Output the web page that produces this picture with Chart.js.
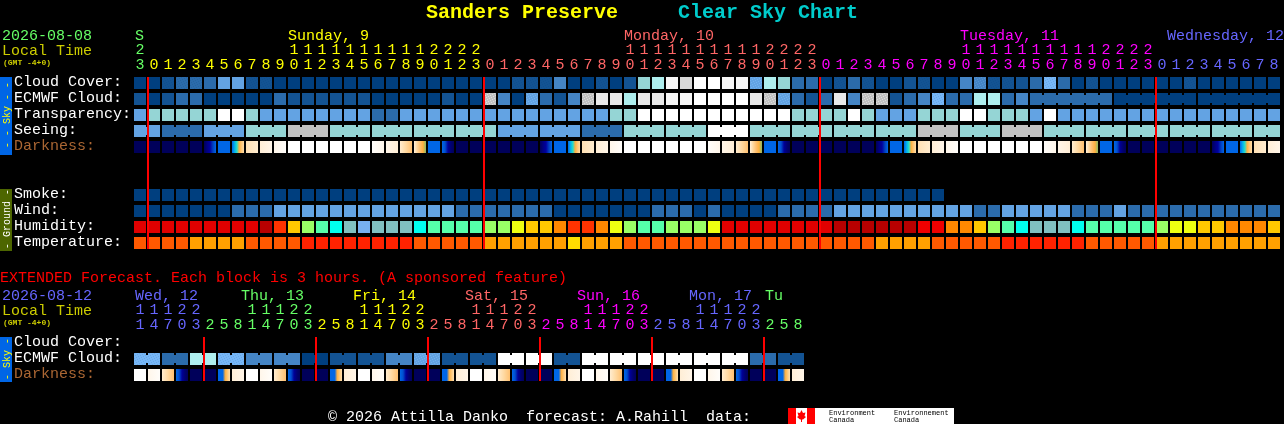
<!DOCTYPE html>
<html>
<head>
<meta charset="utf-8">
<style>
html,body{margin:0;padding:0;background:#000;width:1284px;height:424px;overflow:hidden}
canvas{position:absolute;left:0;top:0}
</style>
<script src="https://cdn.jsdelivr.net/npm/chart.js@4"></script>
</head>
<body>
<canvas id="main" width="1284" height="424"></canvas>
<canvas id="ext" width="1284" height="424"></canvas>
<script>
/* ---------- data ---------- */
const hours = [23,0,1,2,3,4,5,6,7,8,9,10,11,12,13,14,15,16,17,18,19,20,21,22,23,
  0,1,2,3,4,5,6,7,8,9,10,11,12,13,14,15,16,17,18,19,20,21,22,23,
  0,1,2,3,4,5,6,7,8,9,10,11,12,13,14,15,16,17,18,19,20,21,22,23,
  0,1,2,3,4,5,6,7,8];
const rowLabels = ['Cloud Cover:','ECMWF Cloud:','Transparency:','Seeing:','Darkness:','','','Smoke:','Wind:','Humidity:','Temperature:'];
const cloudCover = [0,0,21,22,22,2,4,4,21,21, 0,0,0,0,0,0,0,0,0,0, 0,0,0,0,0,0,0,21,21,21,
  3,0,0,21,0,1,6,7,11,9, 12,12,11,11,24,7,6,2,2,0, 21,2,21,0,0,1,21,0,0,3,
  23,21,21,1,2,25,2,0,21,0, 0,0,0,0,0,21,0,0,0,0, 0,0];
const ecmwf = [1,0,1,2,2,0,0,0,0,0, 2,1,1,1,1,1,1,0,0,0, 0,0,1,0,0,28,3,0,24,2,
  1,3,28,10,10,7,10,10,11,11, 12,12,12,12,10,28,24,2,1,2, 10,3,28,28,1,2,3,25,2,2,
  7,7,2,3,2,2,2,2,2,2, 0,0,0,0,0,0,0,0,0,0, 0,0];
const ecmwfStarts = [0,1,2,3,4,5,6,7,8,9,10,11,12,13,14,15,16,17,18,19,20,21,22,23,24,25,26,27,28,29,30,31,32,33,34,35,36,37,38,39,40,41,42,43,44,45,46,47,48,49,50,51,52,53,54,55,56,57,58,59,60,61,62,63,64,70,76];
const transparency = [4,6,6,6,6,6,12,12,6,4, 4,4,4,4,4,4,4,2,2,4, 4,4,4,4,4,4,4,4,4,4,
  4,4,4,4,6,6,12,12,12,12, 12,12,12,12,12,12,12,6,6,6, 6,12,6,4,4,4,6,6,6,12,
  12,6,6,6,4,12,4,4,4,4, 4,4,4,4,4,4,4,4,4,4, 4,4];
const seeing = [4,4,2,2,2,4,4,4,6,6, 6,8,8,8,6,6,6,6,6,6, 6,6,6,6,6,6,4,4,4,4,
  4,4,2,2,2,6,6,6,6,6, 6,12,12,12,6,6,6,6,6,6, 6,6,6,6,6,6,8,8,8,6,
  6,6,8,8,8,6,6,6,6,6, 6,6,6,6,6,6,6,6,6,6, 6,6];
const seeingStarts = [0,2,5,8,11,14,17,20,23,26,29,32,35,38,41,44,47,50,53,56,59,62,65,68,71,74,77,80];
const darkness = ['n','n','n','n','n','a','b','c','d','e','f','w','w','w','w','w','w','F','E','D','C','b','A',
  'n','n','n','n','n','n','a','b','c','d','e','f','w','w','w','w','w','w','F','E','D','C','b','A',
  'n','n','n','n','n','n','a','b','c','d','e','f','w','w','w','w','w','w','F','E','D','C','b','A',
  'n','n','n','n','n','n','a','b','c','d','e'];
const smoke = [0,0,0,0,0,0,0,0,0,0, 0,0,0,0,0,0,0,0,0,0, 0,0,0,0,0,0,0,0,0,0,
  0,0,0,0,0,0,0,0,0,0, 0,0,0,0,0,0,0,0,0,0, 0,0,0,0,0,0,0,0];
const wind = [0,0,0,0,0,0,0,2,2,2, 4,4,4,4,4,4,4,4,4,4, 4,4,4,2,2,2,2,2,2,2,
  0,0,0,0,0,0,0,2,2,2, 0,2,0,0,0,0,2,2,2,2, 4,4,4,4,4,4,4,4,4,4,
  2,2,4,4,4,4,4,2,2,2, 4,2,2,2,2,2,2,2,2,2, 2,2];
const humidity = ['R','R','R','R','R','R','R','R','R','D','S','A','L','G','C','T','B','T','T','T','C',
  'G','G','G','G','L','L','Y','A','A','O','S','S','O','Y','L','G','G','L','L','L','Y',
  'R','R','R','R','R','R','R','R','D','D','D','D','D','D','H','H','O','O','A','L','G','C','T','T','T',
  'C','G','G','G','G','G','L','Y','Y','A','A','O','O','O','A'];
const temperature = ['F','F','F','F','A','A','A','A','F','F','F','F','X','X','X','X','X','X','X','X','F',
  'F','F','F','F','A','A','A','A','A','A','Y','A','A','A','F','F','F','F','F','F','F','F','F','F','F','F','F','F','F','F','F',
  'F','A','A','A','A','F','F','F','F','F','X','X','X','X','X','X','F','F','F','F','F',
  'A','A','A','A','A','A','A','A','A'];
const midnights = [1,25,49,73];

const extHours = [11,14,17,20,23,2,5,8, 11,14,17,20,23,2,5,8, 11,14,17,20,23,2,5,8,
  11,14,17,20,23,2,5,8, 11,14,17,20,23,2,5,8, 11,14,17,20,23,2,5,8];
const extRowLabels = ['Cloud Cover:','ECMWF Cloud:','Darkness:'];
const extEcmwf = [25,25,2,2,7,7,25,25,3,3,3,3,0,0,1,1,1,1,3,3,24,24,1,1,
  1,1,12,12,12,12,1,1,12,12,12,12,12,12,12,12,12,12,12,12,2,2,1,1];
const extStarts = [0,2,4,6,8,10,12,14,16,18,20,22,24,26,28,30,32,34,36,38,40,42,44,46];
const extDarkness = ['w','f','D','A','n','n','g','e','w','f','D','A','n','n','g','e',
  'w','f','D','A','n','n','g','e','w','f','D','A','n','n','g','e',
  'w','f','D','A','n','n','g','e','w','f','D','A','n','n','g','e'];
const extMidnights = [5,13,21,29,37,45];

const dayRuns = [[1,'#66ff66'],[25,'#ffff00'],[49,'#ff6666'],[73,'#ff00ff'],[82,'#6666ff']];
const extDayRuns = [[5,'#6666ff'],[13,'#66ff66'],[21,'#ffff00'],[29,'#ff6666'],[37,'#ff00ff'],[45,'#6666ff'],[48,'#66ff66']];

/* ---------- styles ---------- */
const MONO = '"Liberation Mono", "DejaVu Sans Mono", monospace';
const cloudColors = {0:'#003f7f',1:'#135393',2:'#2b6bab',3:'#4585c5',4:'#63a3e3',5:'#77b7f7',6:'#95d5d5',7:'#aeeeee',
  8:'#c2c2c2',9:'#d8d8d8',10:'#e9e9e9',11:'#f6f6f6',12:'#ffffff'};
const speckled = {21:['#135393','#0f4f8f'],22:['#2b6bab','#25659f'],23:['#4585c5','#5393d3'],24:['#63a3e3','#72b2ee'],
  25:['#77b7f7','#68a8e8'],28:['#c2c2c2','#dcdcdc']};
const humidityColors = {R:'#e00000',D:'#b80000',H:'#f00000',S:'#ff3300',O:'#ff8800',A:'#ffc800',Y:'#eeff11',L:'#99ff66',
  G:'#55ffaa',C:'#00ffee',T:'#80c0c0',B:'#77b0f0'};
const tempColors = {F:'#ff5900',A:'#ffa000',Y:'#ffdd00',X:'#ff2200'};
const darkStops = {
  n:['#00005a','#00005a'],
  a:['#00005a','#000080','#0000a0','#0040c0','#0066e6'],
  b:['#0066e6','#0066e6'],
  A:['#0066e6','#0050d0','#000098','#000070','#00005a'],
  c:['#0066e6','#00aaee','#22ddcc','#ffb040','#ffc878','#ffdca8'],
  C:['#fff0da','#ffd8a0','#ffc070','#ffb040','#88bb66'],
  g:['#0066e6','#0066e6','#0066e6','#ffb040','#ffc878','#ffe0b0'],
  d:['#ffe0b4','#ffeccf'],
  e:['#ffeed6','#fff5e8'],
  f:['#fff6ea','#fffdfa'],
  w:['#ffffff','#ffffff'],
  F:['#fffdfa','#fff6ea'],
  E:['#fff5e8','#ffeed6'],
  D:['#ffeccf','#ffd8a0','#ffc070']
};
const CELL_PAD = 2/16, BRIDGE_PAD = 4/16;

function specklePattern(ctx, base, dot){
  const c = document.createElement('canvas'); c.width = 5; c.height = 5;
  const t = c.getContext('2d');
  t.fillStyle = base; t.fillRect(0,0,5,5);
  t.fillStyle = dot;
  [[0,0],[3,1],[1,2],[4,3],[2,4]].forEach(p => t.fillRect(p[0],p[1],1,1));
  return ctx.createPattern(c,'repeat');
}
function cloudFills(ctx, levels){
  const cache = {};
  return levels.map(l => {
    if (cloudColors[l]) return cloudColors[l];
    if (!cache[l]) cache[l] = specklePattern(ctx, speckled[l][0], speckled[l][1]);
    return cache[l];
  });
}
function darkFill(levels){
  const cache = {};
  return c => {
    const i = c.dataIndex;
    if (i === undefined) return '#000';
    if (cache[i]) return cache[i];
    const px = c.chart.scales.x.getPixelForTick(i);
    const g = c.chart.ctx.createLinearGradient(px-6,0,px+6,0);
    const s = darkStops[levels[i]];
    s.forEach((col,k) => g.addColorStop(k/(s.length-1), col));
    return cache[i] = g;
  };
}
function cells(row, n, fill){
  return {xAxisID:'x', yAxisID:'y', data:Array.from({length:n},()=>[row+CELL_PAD,row+1-CELL_PAD]), backgroundColor:fill,
    barPercentage:12/14, categoryPercentage:1, grouped:false, borderWidth:0, inflateAmount:0, borderSkipped:false};
}
function bridges(row, levels, starts, fills){
  const data=[], colors=[];
  levels.forEach((l,i)=>{ if(i>0 && !starts.includes(i)){ data.push({x:i,y:[row+BRIDGE_PAD,row+1-BRIDGE_PAD]}); colors.push(fills[i]); } });
  return {xAxisID:'xb', yAxisID:'y', data, backgroundColor:colors, barPercentage:1, categoryPercentage:1, maxBarThickness:2,
    grouped:false, borderWidth:0, inflateAmount:0, borderSkipped:false};
}
function colourAt(runs, i){ for(const r of runs){ if(i<r[0]) return r[1]; } return runs[runs.length-1][1]; }
function tickLabels(hs){ return hs.map(h => [h>=10?String(Math.floor(h/10)):'', String(h%10)]); }

function text(ctx, s, x, y, color, font, align){
  ctx.font = font; ctx.fillStyle = color; ctx.textAlign = align||'left'; ctx.textBaseline='alphabetic';
  ctx.fillText(s,x,y);
}
function sideBar(ctx, top, bottom, color, textColor, label, cy){
  ctx.fillStyle = color; ctx.fillRect(0,top,12,bottom-top);
  ctx.save(); ctx.translate(9.5,cy); ctx.rotate(-Math.PI/2);
  text(ctx,label,0,0,textColor,'10px '+MONO,'center');
  ctx.restore();
}
function redLines(chart, idx){
  const {x,y} = chart.scales, ctx = chart.ctx;
  const n = y.max, top = y.getPixelForValue(CELL_PAD), bot = y.getPixelForValue(n-CELL_PAD);
  ctx.fillStyle = '#ff0000';
  idx.forEach(i => ctx.fillRect(x.getPixelForTick(i)-7, top, 2, bot-top));
}
function baseOptions(rightPad, areaBottomPad, axisHeight, rowsCount, labels, tickColour, runs){
  return {
    responsive:false, animation:false, devicePixelRatio:1, events:[],
    layout:{padding:{left:14,right:rightPad,top:0,bottom:areaBottomPad}},
    plugins:{legend:{display:false},tooltip:{enabled:false},title:{display:false}},
    scales:{
      x:{type:'category',position:'top',offset:true,
        grid:{display:false,drawTicks:false},border:{display:false},
        afterFit:s=>{s.height=axisHeight;},
        ticks:{autoSkip:false,maxRotation:0,minRotation:0,padding:2,
          font:{family:MONO,size:15,lineHeight:'15px'},
          color:c=>colourAt(runs,c.index)}},
      xb:{type:'linear',display:false,min:0,max:labels,offset:false,grid:{display:false}},
      y:{type:'linear',position:'left',reverse:true,min:0,max:rowsCount,
        grid:{display:false,drawTicks:false},border:{display:false},
        afterFit:s=>{s.width=119;},
        afterBuildTicks:s=>{s.ticks=Array.from({length:rowsCount},(_,i)=>({value:i+0.5}));},
        ticks:{autoSkip:false,crossAlign:'far',padding:0,labelOffset:-1,
          font:{family:MONO,size:15},
          color:tickColour,
          callback:(v,i)=>tickColour.labels[i]}}
    }
  };
}

/* ---------- main chart ---------- */
const mainCanvas = document.getElementById('main');
const mctx = mainCanvas.getContext('2d');
const rowColour = c => rowLabels[c.index]==='Darkness:' ? '#aa6633' : '#ffffff';
rowColour.labels = rowLabels;
const mainFills = {cloud:cloudFills(mctx,cloudCover),ecmwf:cloudFills(mctx,ecmwf),trans:cloudFills(mctx,transparency),
  seeing:cloudFills(mctx,seeing),smoke:cloudFills(mctx,smoke),wind:cloudFills(mctx,wind)};
new Chart(mctx,{
  type:'bar',
  data:{labels:tickLabels(hours),datasets:[
    cells(0,cloudCover.length,mainFills.cloud),
    cells(1,ecmwf.length,mainFills.ecmwf),
    bridges(1,ecmwf,ecmwfStarts,mainFills.ecmwf),
    cells(2,transparency.length,mainFills.trans),
    cells(3,seeing.length,mainFills.seeing),
    bridges(3,seeing,seeingStarts,mainFills.seeing),
    cells(4,darkness.length,darkFill(darkness)),
    cells(7,smoke.length,mainFills.smoke),
    cells(8,wind.length,mainFills.wind),
    cells(9,humidity.length,humidity.map(k=>humidityColors[k])),
    cells(10,temperature.length,temperature.map(k=>tempColors[k]))
  ]},
  options:baseOptions(3,173,75,11,82,rowColour,dayRuns),
  plugins:[{id:'mainExtras',
    afterDatasetsDraw(chart){ redLines(chart,midnights); },
    afterDraw(chart){
      const c = chart.ctx, x = chart.scales.x;
      const left = i => x.getPixelForTick(i)-6;
      text(c,'Sanders Preserve',426,18,'#ffff00','bold 20px '+MONO);
      text(c,'Clear Sky Chart',678,18,'#00cccc','bold 20px '+MONO);
      text(c,'2026-08-08',2,40,'#66ff66','15px '+MONO);
      text(c,'Local Time',2,55,'#cccc00','15px '+MONO);
      text(c,'(GMT -4+0)',3,65,'#cccc00','bold 8px '+MONO);
      text(c,'S',left(0)+1,40,'#66ff66','15px '+MONO);
      text(c,'Sunday, 9',left(11),40,'#ffff00','15px '+MONO);
      text(c,'Monday, 10',left(35),40,'#ff6666','15px '+MONO);
      text(c,'Tuesday, 11',left(59),40,'#ff00ff','15px '+MONO);
      text(c,'Wednesday, 12',1284,40,'#6666ff','15px '+MONO,'right');
      sideBar(c,77,155,'#0066e6','#ffff00','- - Sky - -',115);
      sideBar(c,189,251,'#4d6600','#ffffff','- Ground -',219);
    }
  }]
});

/* ---------- extended chart ---------- */
const extCanvas = document.getElementById('ext');
const ectx = extCanvas.getContext('2d');
const extRowColour = c => extRowLabels[c.index]==='Darkness:' ? '#aa6633' : '#ffffff';
extRowColour.labels = extRowLabels;
const extFills = cloudFills(ectx,extEcmwf);
new Chart(ectx,{
  type:'bar',
  data:{labels:tickLabels(extHours),datasets:[
    cells(1,extEcmwf.length,extFills),
    bridges(1,extEcmwf,extStarts,extFills),
    cells(2,extDarkness.length,darkFill(extDarkness))
  ]},
  options:baseOptions(479,41,335,3,48,extRowColour,extDayRuns),
  plugins:[{id:'extExtras',
    afterDatasetsDraw(chart){ redLines(chart,extMidnights); },
    afterDraw(chart){
      const c = chart.ctx, x = chart.scales.x;
      const left = i => x.getPixelForTick(i)-6;
      text(c,'EXTENDED Forecast. Each block is 3 hours. (A sponsored feature)',0,282,'#ff0000','15px '+MONO);
      text(c,'2026-08-12',2,300,'#6666ff','15px '+MONO);
      text(c,'Local Time',2,315,'#cccc00','15px '+MONO);
      text(c,'(GMT -4+0)',3,325,'#cccc00','bold 8px '+MONO);
      [['Wed, 12',0,'#6666ff',1],['Thu, 13',8,'#66ff66',-5],['Fri, 14',16,'#ffff00',-5],['Sat, 15',24,'#ff6666',-5],
       ['Sun, 16',32,'#ff00ff',-5],['Mon, 17',40,'#6666ff',-5],['Tu',45,'#66ff66',1]].forEach(d=>{
        text(c,d[0],left(d[1])+d[3],300,d[2],'15px '+MONO);
      });
      sideBar(c,337,382,'#0066e6','#ffff00','- Sky -',359);
      text(c,'\u00a9 2026 Attilla Danko  forecast: A.Rahill  data:',328,421,'#ffffff','15px '+MONO);
      c.fillStyle='#ffffff'; c.fillRect(788,408,166,16);
      c.fillStyle='#ff0000'; c.fillRect(788,408,8,16); c.fillRect(807,408,8,16);
      c.beginPath();
      [[801.5,410],[803,413],[805.5,412.5],[804.5,416],[806,417],[803,419.5],[802,419.5],[802,422],[801,422],[801,419.5],[800,419.5],[797,417],[798.5,416],[797.5,412.5],[800,413]]
        .forEach((p,i)=> i? c.lineTo(p[0],p[1]) : c.moveTo(p[0],p[1]));
      c.closePath(); c.fill();
      text(c,'Environment',829,415,'#000000','7px '+MONO);
      text(c,'Canada',829,422,'#000000','7px '+MONO);
      text(c,'Environnement',894,415,'#000000','7px '+MONO);
      text(c,'Canada',894,422,'#000000','7px '+MONO);
    }
  }]
});
</script>
</body>
</html>
